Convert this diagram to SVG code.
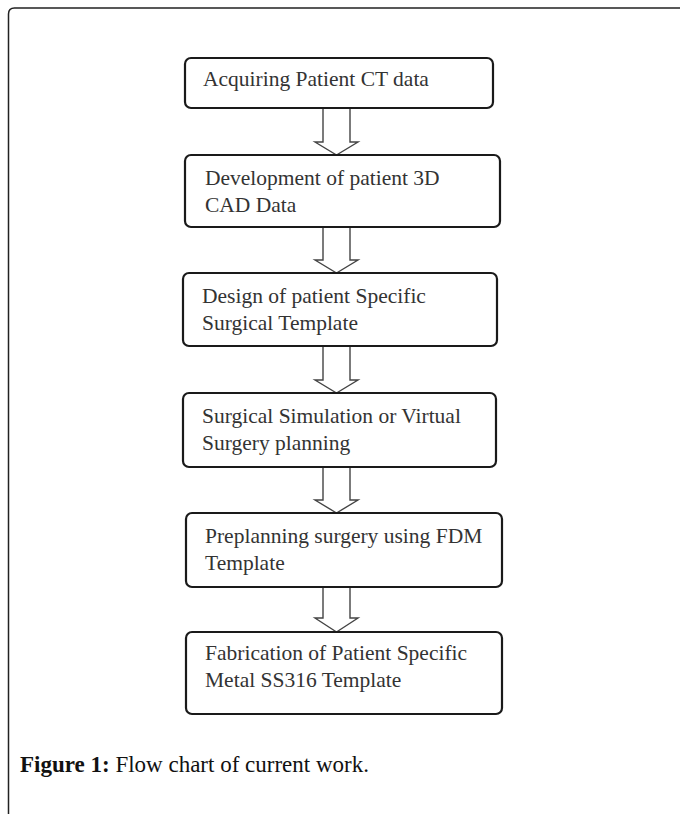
<svg xmlns="http://www.w3.org/2000/svg" width="680" height="814" viewBox="0 0 680 814">
<style>
.box{fill:#fff;stroke:#1a1a1a;stroke-width:2.2}
.t{font-family:"Liberation Serif","Times New Roman",serif;font-size:21.5px;fill:#333}
.arr{fill:#fff;stroke:#444;stroke-width:1.4;stroke-linejoin:miter}
.cap{font-family:"Liberation Serif","Times New Roman",serif;font-size:23px;fill:#111}
</style>
<rect width="680" height="814" fill="#fff"/>
<path d="M8.5,814 V14 Q8.5,8 14.5,8 H680" fill="none" stroke="#222" stroke-width="1.5"/>
<g id="connectors">
<polygon class="arr" points="323,108 323,142 315,142 336.5,155 358,142 350,142 350,108"/>
<polygon class="arr" points="323,227 323,260 315,260 336.5,273 358,260 350,260 350,227"/>
<polygon class="arr" points="323,346 323,380 315,380 336.5,393 358,380 350,380 350,346"/>
<polygon class="arr" points="323,467 323,500 315,500 336.5,513 358,500 350,500 350,467"/>
<polygon class="arr" points="323,587 323,618 315,618 336.5,632 358,618 350,618 350,587"/>
</g>
<g id="n1"><rect class="box" x="185" y="58" width="308" height="50" rx="6"/><text class="t" x="203" y="86">Acquiring Patient CT data</text></g>
<g id="n2"><rect class="box" x="185" y="155" width="315" height="72" rx="6"/><text class="t" x="205" y="185">Development of patient 3D</text><text class="t" x="205" y="212">CAD Data</text></g>
<g id="n3"><rect class="box" x="183" y="273" width="314" height="73" rx="6"/><text class="t" x="202" y="303">Design of patient Specific</text><text class="t" x="202" y="330">Surgical Template</text></g>
<g id="n4"><rect class="box" x="183" y="393" width="313" height="74" rx="6"/><text class="t" x="202" y="423">Surgical Simulation or Virtual</text><text class="t" x="202" y="450">Surgery planning</text></g>
<g id="n5"><rect class="box" x="186" y="513" width="316" height="74" rx="6"/><text class="t" x="205" y="543">Preplanning surgery using FDM</text><text class="t" x="205" y="570">Template</text></g>
<g id="n6"><rect class="box" x="186" y="632" width="316" height="82" rx="6"/><text class="t" x="205" y="660">Fabrication of Patient Specific</text><text class="t" x="205" y="687">Metal SS316 Template</text></g>
<text class="cap" x="20" y="772"><tspan font-weight="bold">Figure 1:</tspan> Flow chart of current work.</text>
</svg>
